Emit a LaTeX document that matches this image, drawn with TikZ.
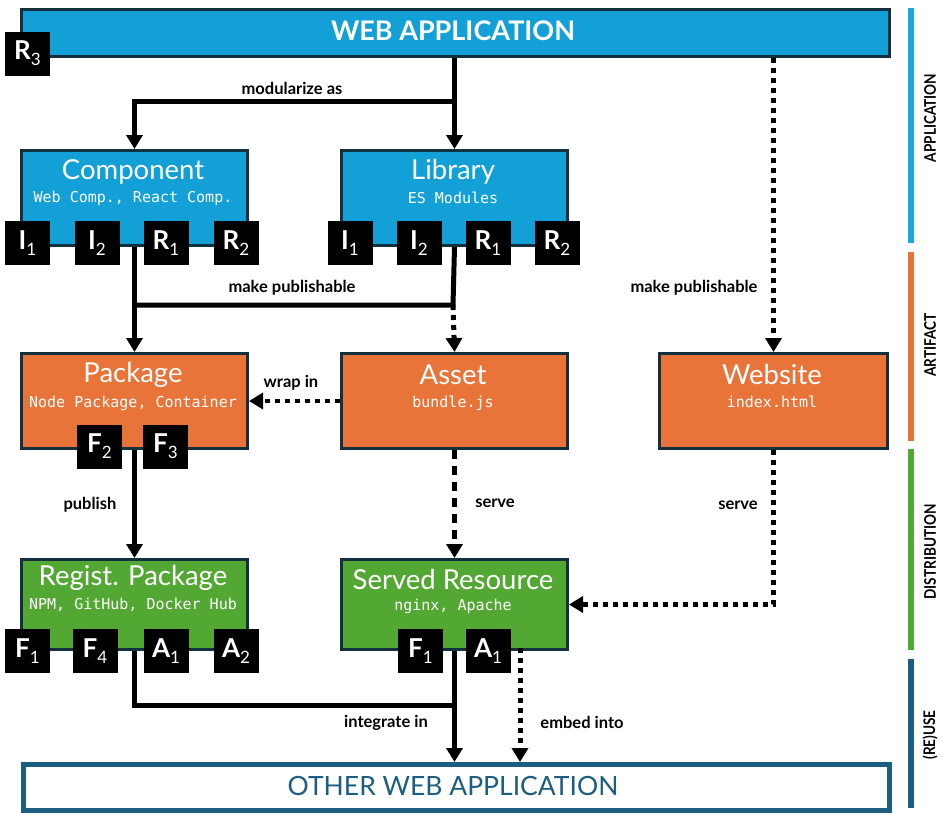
\documentclass[tikz,border=0pt]{standalone}
\usepackage{fontspec}
\setmainfont{Lato}
\setmonofont{DejaVu Sans Mono}
\usetikzlibrary{arrows.meta}
\definecolor{appblue}{HTML}{12A0D7}
\definecolor{artorange}{HTML}{E9743A}
\definecolor{distgreen}{HTML}{52A833}
\definecolor{bordercol}{HTML}{14303F}
\definecolor{reuseblue}{HTML}{1B5E80}
\definecolor{sideblue}{HTML}{1CA8DE}
\newcommand\bdg[2]{{\bfseries #1}\raisebox{-6pt}{\fontsize{17}{17}\selectfont\mdseries #2}}
\begin{document}
\begin{tikzpicture}[x=1pt,y=-1pt,
  box/.style={draw=bordercol, line width=3pt, minimum width=226pt, minimum height=95pt, anchor=north west, inner sep=0pt},
  title/.style={text=white, font=\fontsize{27.5}{27.5}\selectfont, anchor=center},
  sub/.style={text=white, font=\ttfamily\fontsize{15}{15}\selectfont, anchor=center},
  badge/.style={fill=black, text=white, minimum width=45pt, minimum height=44pt, inner sep=0pt, font=\fontsize{26}{26}\selectfont},
  lbl/.style={font=\bfseries\fontsize{16.5}{16.5}\selectfont, anchor=center},
  conn/.style={line width=5pt, draw=black},
  arr/.style={-{Triangle[length=14pt,width=16pt]}},
  dots/.style={dash pattern=on 5pt off 5pt},
  dashs/.style={dash pattern=on 9pt off 7pt},
  sidebar/.style={line width=6pt},
  sidelbl/.style={rotate=90, font=\bfseries\fontsize{16}{16}\selectfont, anchor=center}
]
\useasboundingbox (0,0) rectangle (942,812);

% top banner
\node[draw=bordercol, line width=3pt, fill=appblue, minimum width=868pt, minimum height=47pt, anchor=north west, inner sep=0pt] (web) at (20,8) {};
\node[text=white, font=\bfseries\fontsize{27}{27}\selectfont] (webt) at (453,31) {WEB APPLICATION};
\node[badge] (r3) at (27.5,53.5) {\bdg{R}{3}};

% row 1
\node[box, fill=appblue] (comp) at (20,149) {};
\node[title] (compt) at (133,172) {Component};
\node[sub] (comps) at (133,198) {Web Comp., React Comp.};
\node[box, fill=appblue] (lib) at (340,149) {};
\node[title] (libt) at (453,172) {Library};
\node[sub] (libs) at (453,198) {ES Modules};

% row 2
\node[box, fill=artorange] (pkg) at (20,352) {};
\node[title] (pkgt) at (133,375) {Package};
\node[sub] (pkgs) at (133,403) {Node Package, Container};
\node[box, fill=artorange] (asset) at (340,352) {};
\node[title] (assett) at (453,375) {Asset};
\node[sub] (assets) at (453,403) {bundle.js};
\node[box, fill=artorange, minimum width=228pt] (site) at (658,352) {};
\node[title] (sitet) at (772,374) {Website};
\node[sub] (sites) at (772,402) {index.html};

% row 3
\node[box, fill=distgreen, minimum height=90pt] (reg) at (20,558) {};
\node[title] (regt) at (133,578) {Regist. Package};
\node[sub] (regs) at (133,605) {NPM, GitHub, Docker Hub};
\node[box, fill=distgreen, minimum height=90pt] (srv) at (340,558) {};
\node[title] (srvt) at (453,579) {Served Resource};
\node[sub] (srvs) at (453,606) {nginx, Apache};

% bottom
\node[draw=reuseblue, line width=5pt, fill=white, minimum width=866pt, minimum height=46pt, anchor=north west, inner sep=0pt] (other) at (21,762) {};
\node[text=reuseblue, font=\fontsize{26.5}{26.5}\selectfont] (othert) at (453,786) {OTHER WEB APPLICATION};

% coordinates
\coordinate (m1) at (453,101);
\coordinate (m2) at (453,305);
\coordinate (m3) at (453,705);
\coordinate (e1) at (520,648);
\coordinate (e2) at (520,762);

% connectors
\draw[conn, arr] (web.south -| lib.north) -- (lib.north);
\draw[conn, arr] (m1) -| (comp.north);
\draw[conn, dots, arr] (web.south -| site.north) -- (site.north);
\draw[conn, arr] (comp.south) -- (pkg.north);
\draw[conn] (lib.south) -- (m2) -- (m2 -| comp.south);
\draw[conn, dots, arr] (m2) -- (asset.north);
\draw[conn, dots, line width=3.5pt, arr] (asset.west) -- (pkg.east);
\draw[conn, arr] (pkg.south) -- (reg.north);
\draw[conn, dashs, arr] (asset.south) -- (srv.north);
\draw[conn, dots, arr] (site.south) |- (srv.east);
\draw[conn] (reg.south) |- (m3);
\draw[conn, arr] (srv.south) -- (other.north -| srv.south);
\draw[conn, dots, arr] (e1) -- (e2);

% badges
\node[badge] (ci1) at (27.5,243) {\bdg{I}{1}};
\node[badge] (ci2) at (97,243) {\bdg{I}{2}};
\node[badge] (cr1) at (166,243) {\bdg{R}{1}};
\node[badge] (cr2) at (236,243) {\bdg{R}{2}};
\node[badge] (li1) at (350,243) {\bdg{I}{1}};
\node[badge] (li2) at (419,243) {\bdg{I}{2}};
\node[badge] (lr1) at (488,243) {\bdg{R}{1}};
\node[badge] (lr2) at (557,243) {\bdg{R}{2}};
\node[badge] (pf2) at (99.5,446.5) {\bdg{F}{2}};
\node[badge] (pf3) at (165.5,446.5) {\bdg{F}{3}};
\node[badge] (rf1) at (27.5,651) {\bdg{F}{1}};
\node[badge] (rf4) at (95,651) {\bdg{F}{4}};
\node[badge] (ra1) at (166,651) {\bdg{A}{1}};
\node[badge] (ra2) at (236,651) {\bdg{A}{2}};
\node[badge] (sf1) at (420.5,651) {\bdg{F}{1}};
\node[badge] (sa1) at (488,651) {\bdg{A}{1}};

% labels
\node[lbl] (l1) at (292,88) {modularize as};
\node[lbl] (l2) at (292,288) {make publishable};
\node[lbl] (l3) at (694,288) {make publishable};
\node[lbl] (l4) at (291,383) {wrap in};
\node[lbl] (l5) at (90,505) {publish};
\node[lbl] (l6) at (495,503) {serve};
\node[lbl] (l7) at (738,505) {serve};
\node[lbl] (l8) at (386,723) {integrate in};
\node[lbl] (l9) at (582,722) {embed into};

% side bars
\draw[sidebar, draw=sideblue] (911,8) -- (911,243);
\draw[sidebar, draw=artorange] (911,252) -- (911,441);
\draw[sidebar, draw=distgreen] (911,449) -- (911,650);
\draw[sidebar, draw=reuseblue] (911,659) -- (911,808);
\node[sidelbl] (s1) at (930,118) {\scalebox{0.85}[1]{APPLICATION}};
\node[sidelbl] (s2) at (930,345) {\scalebox{0.85}[1]{ARTIFACT}};
\node[sidelbl] (s3) at (930,552) {\scalebox{0.85}[1]{DISTRIBUTION}};
\node[sidelbl] (s4) at (930,735) {\scalebox{0.85}[1]{(RE)USE}};
\end{tikzpicture}
\end{document}
